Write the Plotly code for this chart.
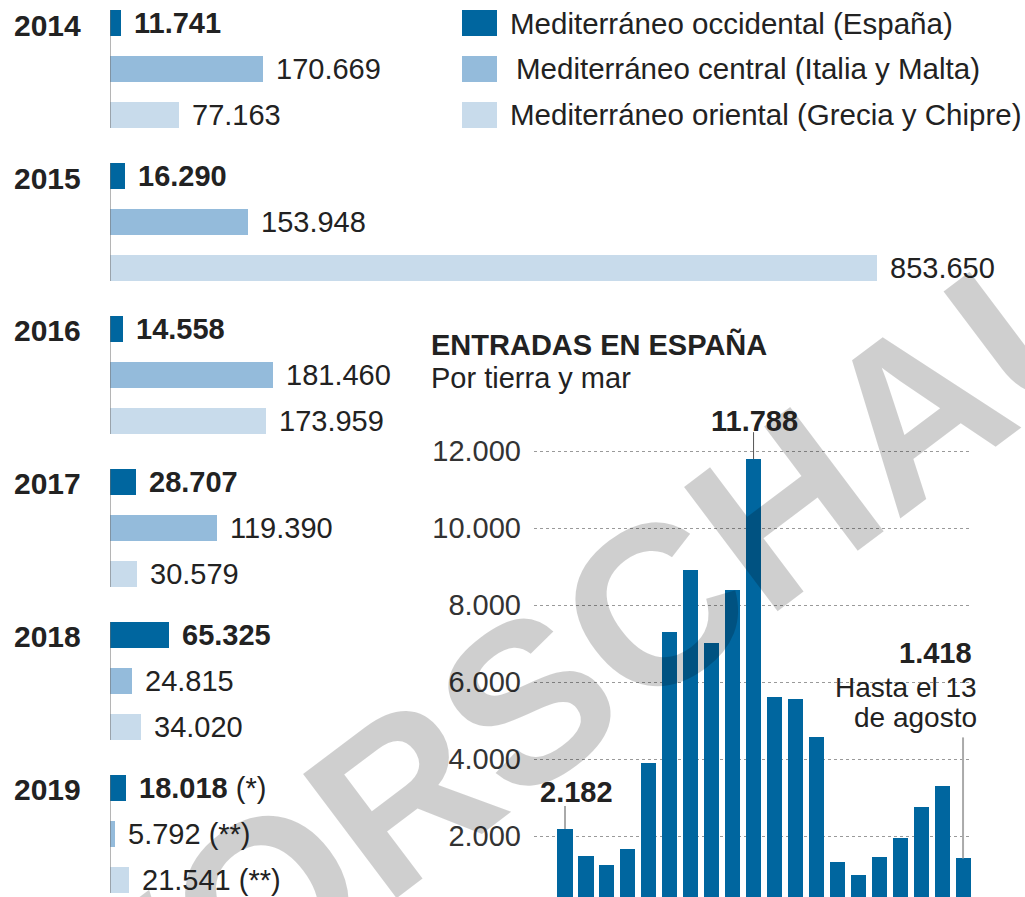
import plotly.graph_objects as go

W, H = 1025, 897
FONT = "Liberation Sans, Arial, sans-serif"
TXT = "#222222"

# ---------------- data ----------------
years = ["2014", "2015", "2016", "2017", "2018", "2019"]
occidental = [11741, 16290, 14558, 28707, 65325, 18018]
central = [170669, 153948, 181460, 119390, 24815, 5792]
oriental = [77163, 853650, 173959, 30579, 34020, 21541]
notes_occ = ["", "", "", "", "", "(*)"]
notes_cen = ["", "", "", "", "", "(**)"]
notes_ori = ["", "", "", "", "", "(**)"]

series_names = ["Mediterráneo occidental (España)",
                "Mediterráneo central (Italia y Malta)",
                "Mediterráneo oriental (Grecia y Chipre)"]
colors = ["#00669f", "#94bbdb", "#c8dbeb"]

months = ["ene 2018", "feb 2018", "mar 2018", "abr 2018", "may 2018", "jun 2018",
          "jul 2018", "ago 2018", "sep 2018", "oct 2018", "nov 2018", "dic 2018",
          "ene 2019", "feb 2019", "mar 2019", "abr 2019", "may 2019", "jun 2019",
          "jul 2019", "ago 2019"]
monthly = [2182, 1480, 1247, 1662, 3896, 7298, 8920, 7013, 8380, 11788, 5610, 5558,
           4571, 1325, 987, 1455, 1948, 2753, 3299, 1418]
y_ticks = [2000, 4000, 6000, 8000, 10000, 12000]

title = "ENTRADAS EN ESPAÑA"
subtitle = "Por tierra y mar"
note_last = ["Hasta el 13", "de agosto"]
watermark = "VORSCHAU"


def fmt(v):
    return f"{v:,}".replace(",", ".")


def px(x, y):
    return x / W, 1 - y / H


# ---------------- layout helpers ----------------
GROUP = 3.326      # slots between year groups
BARH = 0.565       # bar thickness in slots
series = [(occidental, notes_occ), (central, notes_cen), (oriental, notes_ori)]

fig = go.Figure()

for s, ((vals, notes), name, col) in enumerate(zip(series, series_names, colors)):
    fig.add_trace(go.Bar(
        orientation="h", x=vals, y=[g * GROUP + s for g in range(len(years))],
        width=BARH, marker=dict(color=col, line=dict(width=0)),
        name=name, showlegend=False, xaxis="x", yaxis="y",
        customdata=years, hovertemplate="%{customdata}: %{x}<extra>" + name + "</extra>"))

fig.add_trace(go.Bar(
    x=months, y=monthly, width=0.72, marker=dict(color=colors[0], line=dict(width=0)),
    showlegend=False, xaxis="x2", yaxis="y2", name="Entradas en España"))

annotations = []
shapes = []

# watermark (first so labels stay on top)
wx, wy = px(592, 652)
annotations.append(dict(xref="paper", yref="paper", x=wx, y=wy, xanchor="center", yanchor="middle",
                        text="<b>" + watermark + "</b>", showarrow=False, textangle=-37,
                        font=dict(family=FONT, size=226, color="rgba(0,0,0,0.19)")))

# left chart: year labels, axis lines, value labels
for g, yr in enumerate(years):
    base = g * GROUP
    annotations.append(dict(xref="paper", yref="y", x=12 / W, y=base, yshift=-2,
                            xanchor="left", yanchor="middle", showarrow=False,
                            text="<b>" + yr + "</b>",
                            font=dict(family=FONT, size=30, color=TXT)))
    shapes.append(dict(type="line", xref="x", yref="y", x0=0, x1=0,
                       y0=base - BARH / 2, y1=base + 2 + BARH / 2,
                       line=dict(color="#6d6d6d", width=1)))
    for s, (vals, notes) in enumerate(series):
        v = vals[g]
        label = "<b>" + fmt(v) + "</b>" if s == 0 else fmt(v)
        if notes[g]:
            label += " " + notes[g]
        annotations.append(dict(xref="x", yref="y", x=v, y=base + s, xshift=11,
                                xanchor="left", yanchor="middle", showarrow=False,
                                text=label, font=dict(family=FONT, size=29, color=TXT)))

# legend (custom, large swatches)
for s, (name, col) in enumerate(zip(series_names, colors)):
    c = 23 + 46 * s
    x0, y0 = px(462, c - 13)
    x1, y1 = px(497, c + 13)
    shapes.append(dict(type="rect", xref="paper", yref="paper", x0=x0, x1=x1, y0=y1, y1=y0,
                       fillcolor=col, line=dict(width=0)))
    tx, ty = px(514 if s == 1 else 508, c)
    annotations.append(dict(xref="paper", yref="paper", x=tx, y=ty, xanchor="left",
                            yanchor="middle", showarrow=False, text=name,
                            font=dict(family=FONT, size=29.5, color=TXT)))

# right chart title
tx, ty = px(429, 345)
annotations.append(dict(xref="paper", yref="paper", x=tx, y=ty, xanchor="left", yanchor="middle",
                        showarrow=False, text="<b>" + title + "</b>",
                        font=dict(family=FONT, size=29, color=TXT)))
tx, ty = px(429, 378)
annotations.append(dict(xref="paper", yref="paper", x=tx, y=ty, xanchor="left", yanchor="middle",
                        showarrow=False, text=subtitle,
                        font=dict(family=FONT, size=29, color=TXT)))

# right chart callouts
first, peak, last = 0, monthly.index(max(monthly)), len(monthly) - 1
annotations.append(dict(xref="x2", yref="y2", x=months[first], y=monthly[first], xshift=11, yshift=37,
                        showarrow=False, text="<b>" + fmt(monthly[first]) + "</b>",
                        font=dict(family=FONT, size=29, color=TXT)))
shapes.append(dict(type="line", xref="x2", yref="y2", x0=first, x1=first,
                   ysizemode="pixel", yanchor=monthly[first], y0=0, y1=23,
                   line=dict(color="#555555", width=1)))
annotations.append(dict(xref="x2", yref="y2", x=months[peak], y=monthly[peak], xshift=1, yshift=38,
                        showarrow=False, text="<b>" + fmt(monthly[peak]) + "</b>",
                        font=dict(family=FONT, size=29, color=TXT)))
shapes.append(dict(type="line", xref="x2", yref="y2", x0=peak, x1=peak,
                   ysizemode="pixel", yanchor=monthly[peak], y0=0, y1=27,
                   line=dict(color="#555555", width=1)))
annotations.append(dict(xref="x2", yref="y2", x=months[last], y=monthly[last], xshift=11, yshift=205,
                        xanchor="right", showarrow=False, text="<b>" + fmt(monthly[last]) + "</b>",
                        font=dict(family=FONT, size=29, color=TXT)))
annotations.append(dict(xref="x2", yref="y2", x=months[last], y=monthly[last], xshift=16, yshift=171,
                        xanchor="right", showarrow=False, text=note_last[0],
                        font=dict(family=FONT, size=28, color=TXT)))
annotations.append(dict(xref="x2", yref="y2", x=months[last], y=monthly[last], xshift=16, yshift=141,
                        xanchor="right", showarrow=False, text=note_last[1],
                        font=dict(family=FONT, size=28, color=TXT)))
shapes.append(dict(type="line", xref="x2", yref="y2", x0=last, x1=last,
                   ysizemode="pixel", yanchor=monthly[last], y0=0, y1=121,
                   line=dict(color="#aaaaaa", width=2)))
# white patch hiding the gridline behind the note text (between grid and traces)
bx0, by0 = px(832, 673)
bx1, by1 = px(982, 700)
shapes.append(dict(type="rect", xref="paper", yref="paper", x0=bx0, x1=bx1, y0=by1, y1=by0,
                   fillcolor="white", line=dict(width=0), layer="between"))

PXU = 767 / 853650  # px per person in left chart
PX_Y2 = (836 - 451) / 10000
ZERO_Y2 = 836 + 2000 * PX_Y2

fig.update_layout(
    width=W, height=H, margin=dict(l=0, r=0, t=0, b=0),
    paper_bgcolor="white", plot_bgcolor="rgba(0,0,0,0)",
    font=dict(family=FONT, size=29, color=TXT),
    xaxis=dict(domain=[110 / W, 1], range=[0, (W - 110) / PXU], visible=False, fixedrange=True),
    yaxis=dict(domain=[0, 1], range=[19.0, -0.5], visible=False, fixedrange=True),
    xaxis2=dict(domain=[534 / W, 971 / W], range=[-1.48, 19.38], anchor="y2", type="category",
                showticklabels=False, showgrid=False, zeroline=False, showline=False, ticks=""),
    yaxis2=dict(domain=[0, (H - 400) / H], range=[(ZERO_Y2 - H) / PX_Y2, (ZERO_Y2 - 400) / PX_Y2],
                anchor="x2", tickvals=y_ticks, ticktext=[fmt(v) for v in y_ticks],
                showgrid=True, gridcolor="#9a9a9a", griddash="dot", gridwidth=1,
                zeroline=False, showline=False, ticks="", ticklabelstandoff=12,
                tickfont=dict(family=FONT, size=29, color="#333333")),
    annotations=annotations, shapes=shapes, bargap=0,
)

fig.write_html("out.html", config={"displayModeBar": False},
               post_script="document.body.style.margin='0px';")
